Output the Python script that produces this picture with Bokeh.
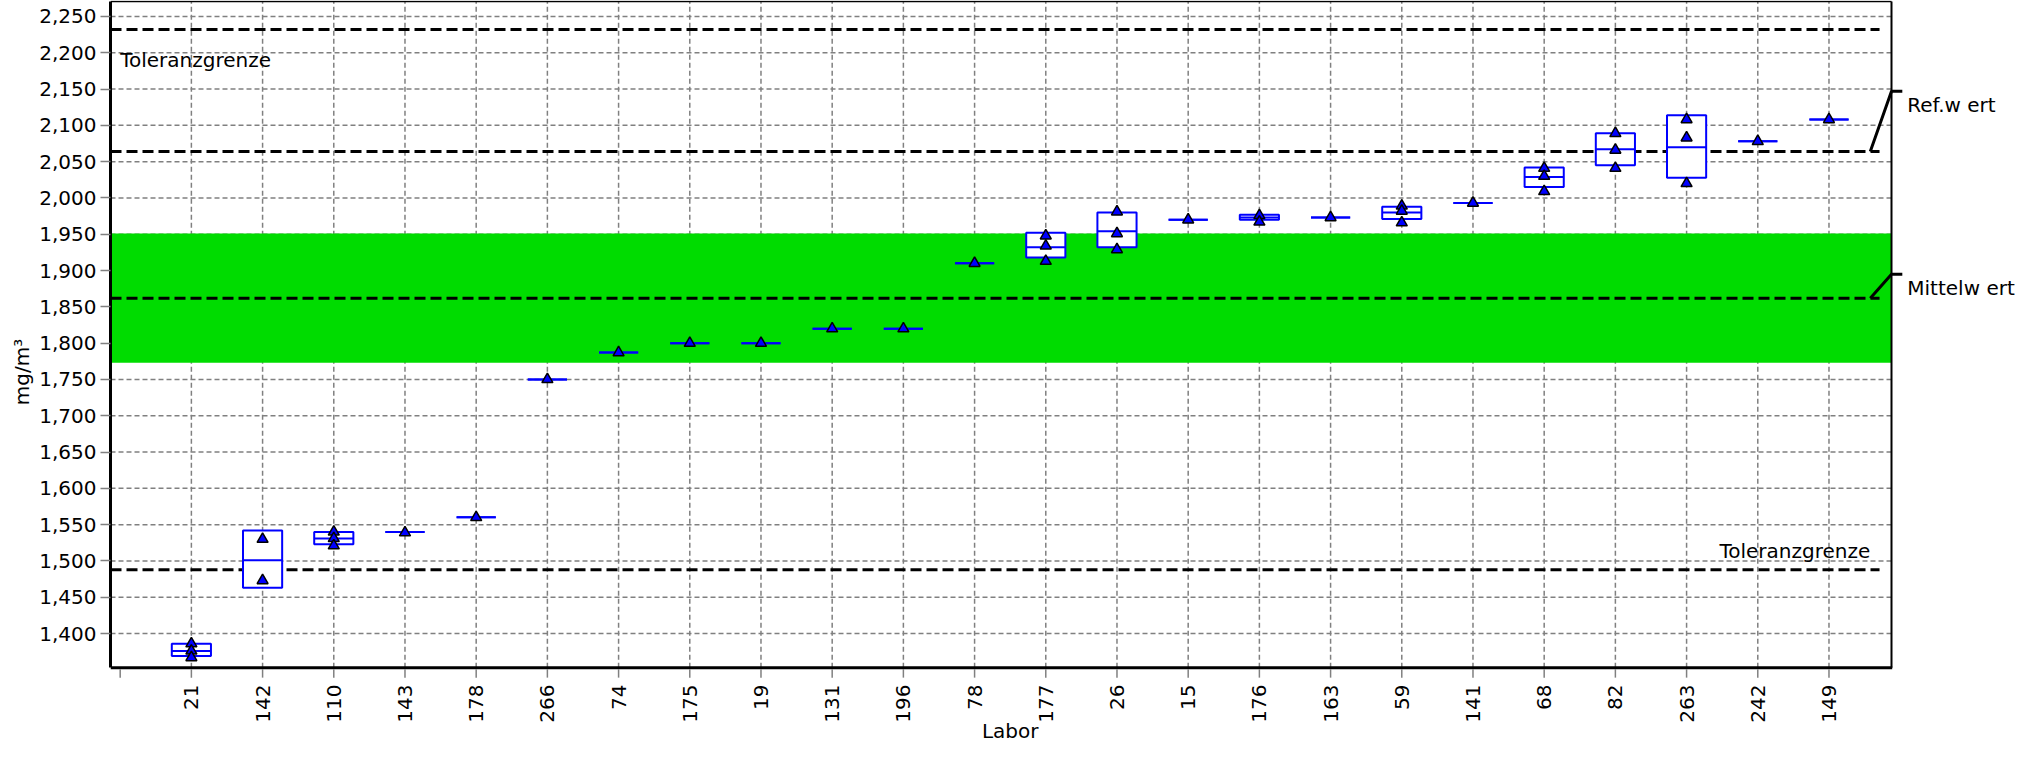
import math
from bokeh.plotting import figure
from bokeh.models import Range1d, FixedTicker, NumeralTickFormatter, Label, ColumnDataSource
from bokeh.core.properties import value
from bokeh.embed import file_html
from bokeh.resources import INLINE

# ---------------- data ----------------
labs = ["21", "142", "110", "143", "178", "266", "74", "175", "19", "131", "196", "78",
        "177", "26", "15", "176", "163", "59", "141", "68", "82", "263", "242", "149"]
box_low = [1369, 1463, 1523, 1540, 1560, 1750, 1787, 1800, 1800, 1820, 1820, 1910,
           1918, 1932, 1970, 1970, 1973, 1971, 1993, 2015, 2045, 2028, 2078, 2108]
box_mid = [1376, 1501, 1531, 1540, 1560, 1750, 1787, 1800, 1800, 1820, 1820, 1910,
           1932, 1954, 1970, 1973, 1973, 1980, 1993, 2029, 2067, 2070, 2078, 2108]
box_high = [1386, 1542, 1540, 1540, 1560, 1750, 1787, 1800, 1800, 1820, 1820, 1910,
            1952, 1980, 1970, 1977, 1973, 1988, 1993, 2042, 2089, 2114, 2078, 2108]
points = [[1386, 1376, 1367], [1530, 1473], [1540, 1531, 1521], [1539], [1560], [1750],
          [1787], [1800], [1800], [1820], [1820], [1910],
          [1948, 1934, 1913], [1981, 1951, 1929], [1970], [1976, 1967], [1973],
          [1989, 1982, 1966], [1993], [2041, 2030, 2009], [2089, 2066, 2041],
          [2108, 2083, 2020], [2078], [2108]]
y_ticks = list(range(1400, 2251, 50))
tol_upper = 2232
ref_value = 2064
mean_value = 1862
tol_lower = 1488
band_low = 1773
band_high = 1951

# ---------------- layout / styles ----------------
FONT = "DejaVu Sans"
FS = "20px"
W, H = 2015, 743
LEFT = 110
X0 = -0.136                     # frame left
PPU_X = 71.2                    # px per category
XR = X0 + (W - LEFT) / PPU_X    # frame right (annotation area included)
XB = 24.878                     # right border of the chart area
Y0, Y1 = 1248.5, 2272.0         # frame bottom / top
PPU_Y = H / (Y1 - Y0)
AX_Y = 1353.0                   # bottom axis value
TOP_Y = 2270.7                  # top border value
BOX_W = 0.55
GREEN = "#00dc00"
BLUE = "#0000ff"
GRID = "#808080"
DY = 7 / PPU_Y                  # vertical nudge for labels

p = figure(width=W, height=H, x_range=Range1d(X0, XR), y_range=Range1d(Y0, Y1),
           output_backend="svg", toolbar_location=None, x_axis_location=None,
           min_border_left=LEFT, min_border_right=0, min_border_top=0, min_border_bottom=0)
p.background_fill_color = "white"
p.border_fill_color = "white"
p.outline_line_color = None
p.xgrid.visible = False
p.ygrid.visible = False

# y axis (real bokeh axis, limited to chart area)
ya = p.yaxis[0]
ya.bounds = (AX_Y, TOP_Y)
ya.ticker = FixedTicker(ticks=y_ticks)
ya.formatter = NumeralTickFormatter(format="0,0")
ya.axis_label = "mg/m³"
ya.axis_line_color = "black"
ya.axis_line_width = 3
ya.major_tick_out = 10
ya.major_tick_in = 0
ya.major_tick_line_color = GRID
ya.major_tick_line_width = 1.5
ya.minor_tick_line_color = None
ya.major_label_text_font = FONT
ya.major_label_text_font_size = FS
ya.major_label_text_color = "black"
ya.major_label_standoff = 4
ya.axis_label_text_font = FONT
ya.axis_label_text_font_size = FS
ya.axis_label_text_font_style = "normal"
ya.axis_label_text_color = "black"
ya.axis_label_standoff = 2

n = len(labs)
xs = list(range(1, n + 1))

# grid
p.segment(x0=[X0] * len(y_ticks), x1=[XB] * len(y_ticks), y0=y_ticks, y1=y_ticks,
          line_color=GRID, line_width=1.5, line_dash="5 3")
p.segment(x0=xs, x1=xs, y0=[AX_Y] * n, y1=[TOP_Y] * n,
          line_color=GRID, line_width=1.5, line_dash="5 3")

# green band
p.quad(left=[X0 - 1], right=[XB], bottom=[band_low], top=[band_high],
       fill_color=GREEN, line_color=None)

# dashed reference lines
ref_lines = [tol_upper, ref_value, mean_value, tol_lower]
p.segment(x0=[X0] * 4, x1=[24.71] * 4, y0=ref_lines, y1=ref_lines,
          line_color="black", line_width=3, line_dash="11 5")

# boxes
src = ColumnDataSource(dict(x=xs, l=[x - BOX_W / 2 for x in xs], r=[x + BOX_W / 2 for x in xs],
                            q1=box_low, q3=box_high, med=box_mid))
p.quad(left="l", right="r", bottom="q1", top="q3", source=src,
       fill_color="white", line_color=BLUE, line_width=2)
p.segment(x0="l", x1="r", y0="med", y1="med", source=src, line_color=BLUE, line_width=2)

# points
px, py = [], []
for i, vals in enumerate(points):
    for v in vals:
        px.append(i + 1)
        py.append(v)
p.scatter(px, py, marker="triangle", size=11, fill_color=BLUE, line_color="black", line_width=1.5)

# borders: top, right, bottom axis line
p.segment(x0=[X0], x1=[XB], y0=[TOP_Y], y1=[TOP_Y], line_color="black", line_width=1.5)
p.segment(x0=[XB], x1=[XB], y0=[AX_Y], y1=[TOP_Y], line_color="black", line_width=2)
p.segment(x0=[X0], x1=[XB + 0.01], y0=[AX_Y], y1=[AX_Y], line_color="black", line_width=3)

# x ticks and labels (drawn manually)
tick_x = list(range(0, n + 1))
tick_len = 10 / PPU_Y
p.segment(x0=tick_x, x1=tick_x, y0=[AX_Y - 1.5 / PPU_Y] * len(tick_x),
          y1=[AX_Y - tick_len] * len(tick_x), line_color=GRID, line_width=1.5)
p.text(x=xs, y=[AX_Y - 17 / PPU_Y] * n, text=labs, angle=math.pi / 2,
       text_align="right", text_baseline="middle", text_font=value(FONT),
       text_font_size=FS, text_color="black")
p.text(x=[(n + 1) / 2], y=[AX_Y - 75 / PPU_Y], text=["Labor"],
       text_align="center", text_baseline="bottom", text_font=value(FONT),
       text_font_size=FS, text_color="black")

# annotations
p.add_layout(Label(x=0.0, y=tol_upper - 32 - DY, text="Toleranzgrenze", text_align="left",
                   text_baseline="middle", text_font=FONT, text_font_size=FS, text_color="black"))
p.add_layout(Label(x=24.58, y=tol_lower + 35 - DY, text="Toleranzgrenze", text_align="right",
                   text_baseline="middle", text_font=FONT, text_font_size=FS, text_color="black"))
LX0, LX1, LX2 = 24.58, XB, 25.03
for val, off, txt in [(ref_value, 83, "Ref.w ert"), (mean_value, 33, "Mittelw ert")]:
    p.line([LX0, LX1, LX2], [val, val + off, val + off], line_color="black", line_width=3)
    p.add_layout(Label(x=25.1, y=val + off - 9 - DY, text=txt, text_align="left",
                       text_baseline="middle", text_font=FONT, text_font_size=FS, text_color="black"))

open("out.html", "w").write(file_html(p, INLINE))
